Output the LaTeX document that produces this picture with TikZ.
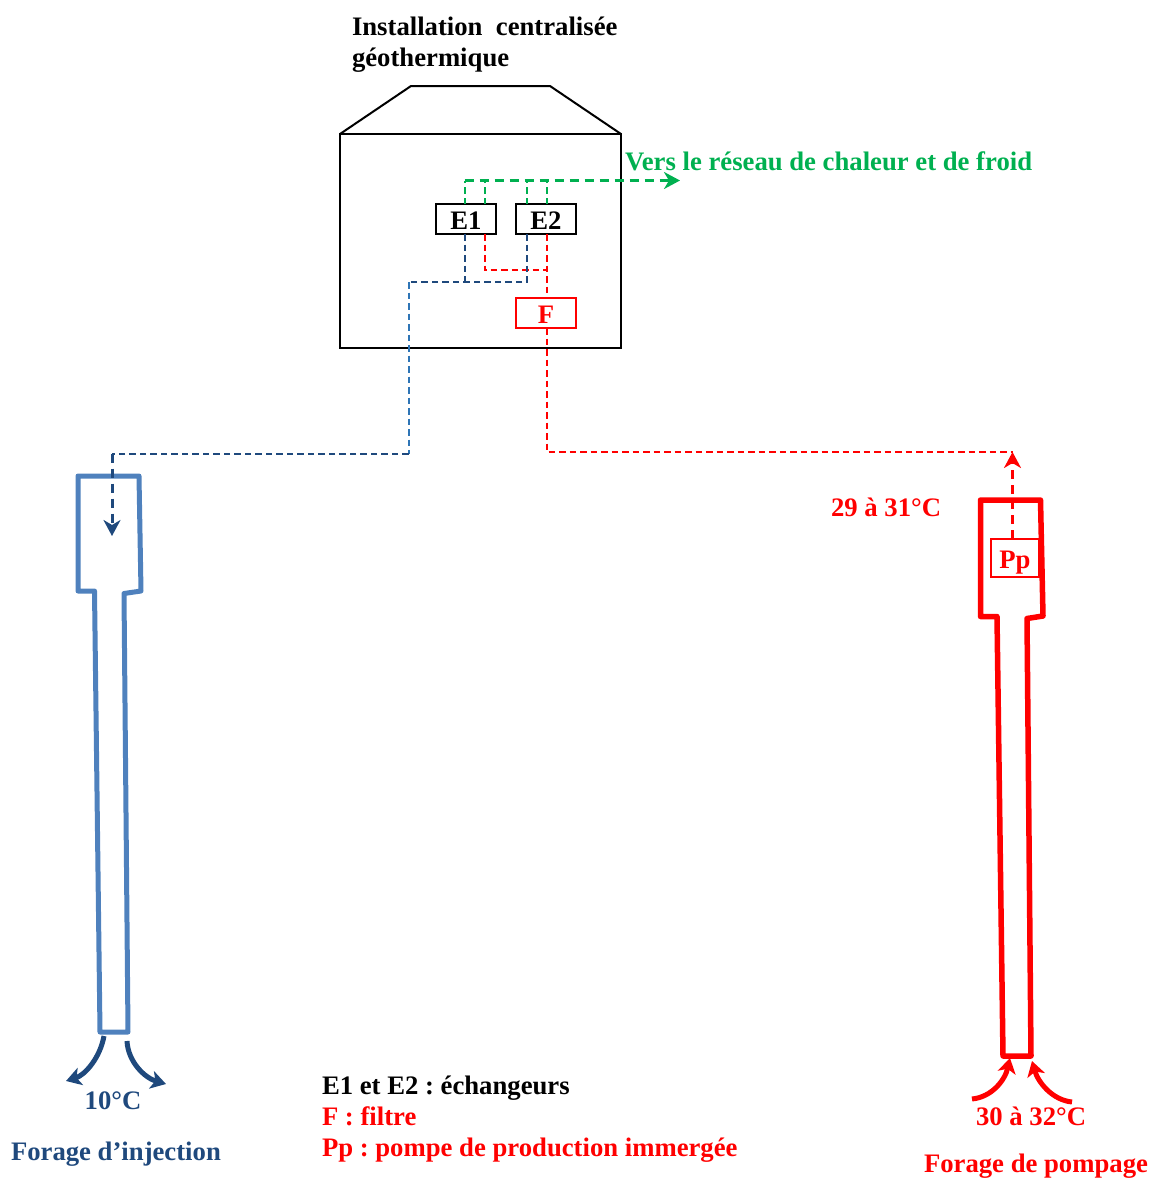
\documentclass[tikz,border=0pt]{standalone}
\usepackage{fontspec}
\setmainfont{Liberation Serif}
\usetikzlibrary{arrows.meta}
\definecolor{dkblue}{HTML}{1F497D}
\definecolor{wellblue}{HTML}{4F81BD}
\definecolor{midblue}{HTML}{2E75B6}
\definecolor{grn}{HTML}{00B050}
\definecolor{rd}{HTML}{FF0000}
\tikzset{
  x=1pt,y=-1pt,
  lab/.style={anchor=base west,inner sep=0pt,outer sep=0pt,font=\fontsize{26.7}{30}\selectfont\bfseries\frenchspacing},
  labc/.style={lab,anchor=base},
  boxtext/.style={inner sep=0pt,outer sep=0pt,text height=20pt,text depth=0pt,font=\fontsize{26.7}{30}\selectfont\bfseries},
  unit/.style={boxtext,draw,line width=2pt,minimum width=60pt,minimum height=30pt},
  pipe/.style={line width=2pt,dash pattern=on 6.5pt off 4pt},
  pipearrow/.style={line width=3pt,dash pattern=on 9.5pt off 5.5pt,-{Stealth[length=16pt,width=17pt,inset=5pt]}},
  well/.style={line width=5pt,line join=round},
  flow/.style={line width=5pt,-{Stealth[length=15pt,width=18pt,inset=4pt]}},
}
\begin{document}
\begin{tikzpicture}
\useasboundingbox (0,0) rectangle (1150,1178);
% building
\draw[line width=2pt,line join=miter] (340,134) -- (411,86) -- (550,86) -- (621,134);
\draw[line width=2pt] (340,134) rectangle (620.5,348);
\node[lab] (title1) at (352,35) {Installation\ \ centralisée};
\node[lab] (title2) at (352,66) {géothermique};
% units
\node[unit] (E1) at (466,219) {E1};
\node[unit] (E2) at (546,219) {E2};
\node[unit,draw=rd,text=rd] (F) at (546,313) {F};
% routing coordinates
\coordinate (x1) at (464.5,180.5);
\coordinate (x2) at (484.5,180.5);
\coordinate (x3) at (526.5,180.5);
\coordinate (x4) at (546.5,180.5);
\coordinate (greenend) at (680,180.5);
\coordinate (bl) at (526.5,282);
\coordinate (br) at (408.5,282);
\coordinate (bd) at (408.5,453.5);
\coordinate (bc) at (112,453.5);
\coordinate (bend) at (112,536);
\coordinate (rl) at (484.5,270);
\coordinate (rr) at (546.5,270);
\coordinate (rc) at (546.5,452);
\coordinate (rt) at (1012.5,452);
% green
\draw[pipe,grn] (E1.north -| x1) -- (x1);
\draw[pipe,grn] (E1.north -| x2) -- (x2);
\draw[pipe,grn] (E2.north -| x3) -- (x3);
\draw[pipe,grn] (E2.north -| x4) -- (x4);
\draw[pipearrow,grn] (x1) -- (greenend);
% red internal
\draw[pipe,rd] (E1.south -| x2) -- (rl) -- (rr);
\draw[pipe,rd] (E2.south -| x4) -- (F.north -| x4);
% blue internal
\draw[pipe,dkblue] (E1.south -| x1) -- (x1 |- bl);
\draw[pipe,dkblue] (E2.south -| x3) -- (bl) -- (br);
\draw[pipe,midblue] (br) -- (bd);
% wells
\draw[well,wellblue] (78,476) -- (139,476) -- (141,591) -- (124,593.5) -- (128,1032) -- (100,1032) -- (94.5,591) -- (78,591) -- cycle;
\draw[well,rd,line width=5.5pt] (980.5,500) -- (1040.5,500) -- (1043,616) -- (1027,618.5) -- (1031,1056) -- (1003,1056) -- (997,616.5) -- (980.5,616.5) -- cycle;
% outgoing pipes
\draw[pipe,dkblue] (bd) -- (bc);
\draw[pipearrow,dkblue] (bc) -- (bend);
\node[boxtext,draw=rd,line width=1.5pt,text=rd,minimum width=48pt,minimum height=38pt] (Pp) at (1015,558) {Pp};
\draw[pipe,rd] (F.south -| x4) -- (rc) -- (rt);
\draw[pipearrow,rd] (Pp.north -| rt) -- (rt);
% flows
\coordinate (a1s) at (104,1036); \coordinate (a1e) at (66,1081);
\coordinate (a2s) at (127,1041); \coordinate (a2e) at (166,1084);
\coordinate (a3s) at (972,1099); \coordinate (a3e) at (1010,1058);
\coordinate (a4s) at (1072,1102); \coordinate (a4e) at (1032,1061);
\draw[flow,dkblue] (a1s) .. controls (100,1058) and (85,1075) .. (a1e);
\draw[flow,dkblue] (a2s) .. controls (128,1062) and (145,1078) .. (a2e);
\draw[flow,rd] (a3s) .. controls (992,1097) and (1005,1080) .. (a3e);
\draw[flow,rd] (a4s) .. controls (1052,1100) and (1038,1082) .. (a4e);
% labels
\node[lab,grn] (vers) at (625,170) {Vers le réseau de chaleur et de froid};
\node[lab,rd] (t29) at (831,516) {29 à 31°C};
\node[labc,dkblue] (t10) at (113,1109) {10°C};
\node[lab,dkblue] (finj) at (11,1160) {Forage d’injection};
\node[lab,rd] (t30) at (976,1125) {30 à 32°C};
\node[lab,rd] (fpom) at (924,1172) {Forage de pompage};
\node[lab] (leg1) at (322,1094) {E1 et E2 : échangeurs};
\node[lab,rd] (leg2) at (322,1125) {F : filtre};
\node[lab,rd] (leg3) at (322,1156) {Pp : pompe de production immergée};
\end{tikzpicture}
\end{document}
